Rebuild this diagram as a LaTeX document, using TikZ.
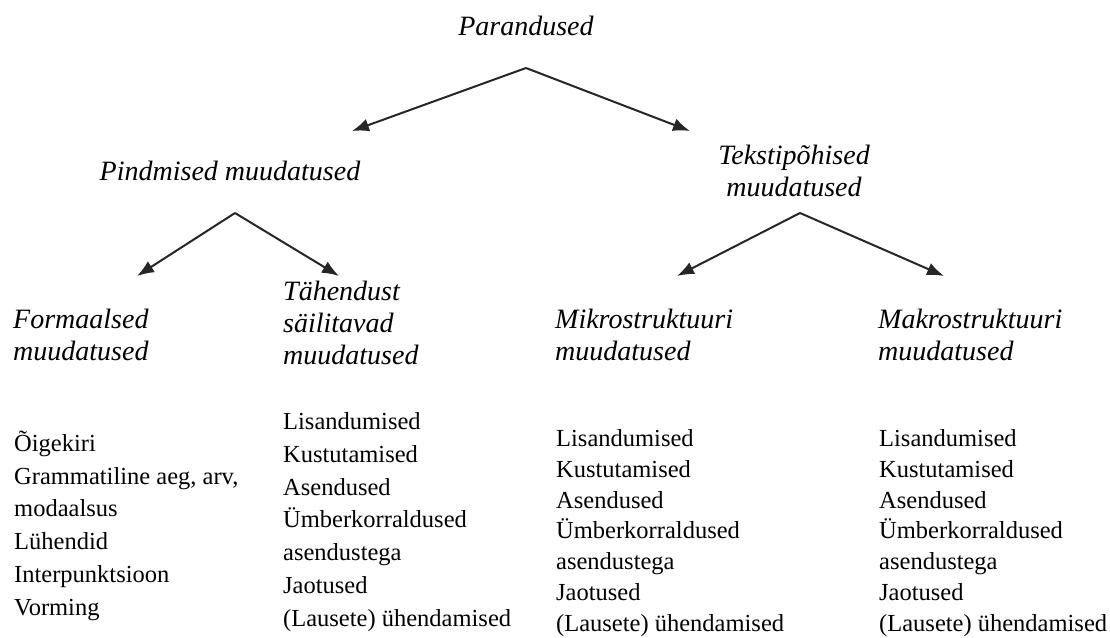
\documentclass[tikz,border=0pt]{standalone}
\usepackage{fontspec}
\setmainfont{Liberation Serif}
\usetikzlibrary{arrows.meta}

\tikzset{
  head/.style={font=\fontsize{28}{32}\selectfont\itshape, inner sep=0pt},
  items/.style={font=\fontsize{24.5}{32.7}\selectfont, inner sep=0pt, align=left, anchor=base west},
  tightitems/.style={items, font=\fontsize{24.5}{30.7}\selectfont},
  tip/.style={-{Latex[length=17pt,width=13pt]}, line width=2pt, black!85}
}

\begin{document}
\begin{tikzpicture}[x=1pt,y=-1pt]
  \useasboundingbox (0,0) rectangle (1110,637);

  % multi-line nodes: base is the last line
  \node[head, anchor=base] (par) at (526,35) {Parandused};
  \node[head, anchor=base] (pind) at (230,180) {Pindmised muudatused};
  \node[head, anchor=base, align=center] (teks) at (794,196) {Tekstipõhised\\muudatused};

  \node[head, anchor=base west, align=left] (form) at (13,360) {Formaalsed\\muudatused};
  \node[head, anchor=base west, align=left] (tahe) at (283,364) {Tähendust\\säilitavad\\muudatused};
  \node[head, anchor=base west, align=left] (mikro) at (555,360) {Mikrostruktuuri\\muudatused};
  \node[head, anchor=base west, align=left] (makro) at (878,360) {Makrostruktuuri\\muudatused};

  \node[items] (formlist) at (14,615) {Õigekiri\\Grammatiline aeg, arv,\\modaalsus\\Lühendid\\Interpunktsioon\\Vorming};
  \node[items] (tahelist) at (283,626) {Lisandumised\\Kustutamised\\Asendused\\Ümberkorraldused\\asendustega\\Jaotused\\(Lausete) ühendamised};
  \node[tightitems] (mikrolist) at (556,631) {Lisandumised\\Kustutamised\\Asendused\\Ümberkorraldused\\asendustega\\Jaotused\\(Lausete) ühendamised};
  \node[tightitems] (makrolist) at (879,631) {Lisandumised\\Kustutamised\\Asendused\\Ümberkorraldused\\asendustega\\Jaotused\\(Lausete) ühendamised};

  % forks below the parents, tips above the children
  \coordinate (parfork) at (526,68);
  \coordinate (pindfork) at (235,213);
  \coordinate (teksfork) at (800,213);
  \coordinate (pindtip) at (352,131);
  \coordinate (tekstip) at (690,131);
  \coordinate (formtip) at (137,276);
  \coordinate (tahetip) at (339,276);
  \coordinate (mikrotip) at (677,276);
  \coordinate (makrotip) at (944,276);

  \path[tip] (parfork) edge (pindtip) edge (tekstip);
  \path[tip] (pindfork) edge (formtip) edge (tahetip);
  \path[tip] (teksfork) edge (mikrotip) edge (makrotip);
\end{tikzpicture}
\end{document}
